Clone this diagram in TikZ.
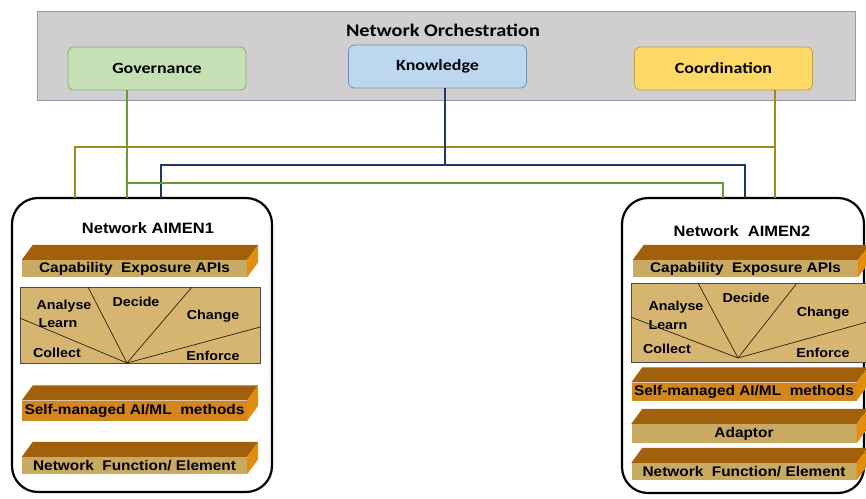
\documentclass[tikz,border=0pt]{standalone}
\usepackage{fontspec}
\setmainfont[FakeStretch=1.1]{Liberation Sans}
\newfontfamily\calibrifont[FakeStretch=1.15]{Carlito}
\usetikzlibrary{calc}
\definecolor{orchgrey}{HTML}{D0CECE}
\definecolor{orchedge}{HTML}{8E9CB0}
\definecolor{govfill}{HTML}{C5E0B4}
\definecolor{govedge}{HTML}{8FA882}
\definecolor{knofill}{HTML}{BDD7EE}
\definecolor{knoedge}{HTML}{6F8FB0}
\definecolor{coofill}{HTML}{FFD966}
\definecolor{cooedge}{HTML}{C0A040}
\definecolor{lgreen}{HTML}{6A9A3A}
\definecolor{lblue}{HTML}{203864}
\definecolor{lolive}{HTML}{A08A1C}
\definecolor{tanface}{HTML}{C9AA62}
\definecolor{cycface}{HTML}{D6B570}
\definecolor{topface}{HTML}{A0600C}
\definecolor{sideface}{HTML}{E48C0C}
\definecolor{orangeface}{HTML}{D4861E}
\newcommand\slabfaces[1]{%
  \fill[topface] (#1.north west) -- ($(#1.north west)+(11,-15)$) -- ($(#1.north east)+(11,-15)$) -- (#1.north east) -- cycle;
  \fill[sideface] (#1.north east) -- ($(#1.north east)+(11,-15)$) -- ($(#1.south east)+(11,-15)$) -- (#1.south east) -- cycle;}
\begin{document}
\begin{tikzpicture}[x=1pt,y=-1pt,
  toplabel/.style={rounded corners=6pt, draw=#1, line width=0.8pt, minimum width=178, minimum height=43, inner sep=0pt, font=\calibrifont\bfseries\fontsize{15.6}{17}\selectfont},
  aimen/.style={draw=black, line width=2.2pt, rounded corners=26pt, fill=white},
  slab/.style={inner sep=0pt, minimum width=225, font=\bfseries\fontsize{14}{15}\selectfont},
  cyc/.style={fill=cycface, draw=black!70, line width=0.5pt, inner sep=0pt},
  cyctext/.style={inner sep=0pt, font=\bfseries\fontsize{13}{14}\selectfont},
  cycline/.style={draw=black!75!brown, line width=0.7pt},
  conn/.style={line width=2.4pt}]
\useasboundingbox (0,0) rectangle (866,498);
\clip (0,0) rectangle (866,498);
% orchestration
\node[fill=orchgrey, draw=orchedge, line width=0.8pt, minimum width=818, minimum height=89, inner sep=0pt] (orch) at (446,55.5) {};
\node[font=\calibrifont\bfseries\fontsize{17.7}{19}\selectfont, inner sep=0pt] (orchtxt) at (443,30) {Network Orchestration};
\node[toplabel=govedge, fill=govfill] (gov) at (157,68.5) {Governance};
\node[toplabel=knoedge, fill=knofill] (kno) at (437.5,66.5) {Knowledge};
\node[toplabel=cooedge, fill=coofill] (coo) at (723.5,68.5) {Coordination};
% AIMEN boxes
\node[aimen, minimum width=260, minimum height=294, inner sep=0pt] (box1) at (142,345) {};
\node[aimen, minimum width=242, minimum height=295, inner sep=0pt] (box2) at (743,345.5) {};
% attachment points
\coordinate (o1) at (75,198);  \coordinate (g1) at (127,198); \coordinate (b1) at (161,198);
\coordinate (g2) at (723,198); \coordinate (b2) at (745,198); \coordinate (o2) at (775,198);
% connectors
\draw[conn, lolive] (coo.south -| o2) -- (o2);
\draw[conn, lolive] (o1) -- (o1 |- 0,147) -- (o2 |- 0,147);
\draw[conn, lblue] (kno.south -| 445,0) -- (445,165);
\draw[conn, lblue] (b1) -- (b1 |- 0,165) -- (b2 |- 0,165) -- (b2);
\draw[conn, lgreen] (gov.south -| g1) -- (g1);
\draw[conn, lgreen] (g1 |- 0,183) -- (g2 |- 0,183) -- (g2);
% ---------- AIMEN1
\node[font=\bfseries\fontsize{15}{16}\selectfont, inner sep=0pt] (t1) at (148,228) {Network AIMEN1};
\node[slab, fill=tanface, minimum height=17] (cap1) at (134.5,268.5) {Capability\ \ Exposure APIs};
\slabfaces{cap1}
\node[cyc, minimum width=240, minimum height=76] (cyc1) at (140,325) {};
\coordinate (c1) at (127,363);
\draw[cycline] (c1) -- (cyc1.west |- 0,318);
\draw[cycline] (c1) -- (88,287);
\draw[cycline] (c1) -- (192,287);
\draw[cycline] (c1) -- (cyc1.east |- 0,327);
\node[cyctext] (an1) at (64,306) {Analyse};
\node[cyctext] (le1) at (58,323) {Learn};
\node[cyctext] (de1) at (136,302) {Decide};
\node[cyctext] (ch1) at (213,316) {Change};
\node[cyctext] (co1) at (57,353) {Collect};
\node[cyctext] (en1) at (213,356) {Enforce};
\node[slab, fill=orangeface, minimum height=20] (sm1) at (134.5,410.5) {Self-managed AI/ML\ \ methods};
\slabfaces{sm1}
\node[slab, fill=tanface, minimum height=17] (nf1) at (134.5,465.5) {Network\ \ Function/ Element};
\slabfaces{nf1}
% ---------- AIMEN2
\node[font=\bfseries\fontsize{15}{16}\selectfont, inner sep=0pt] (t2) at (742,231) {Network\ \ AIMEN2};
\node[slab, fill=tanface, minimum height=17] (cap2) at (745.5,268.5) {Capability\ \ Exposure APIs};
\slabfaces{cap2}
\node[cyc, minimum width=236, minimum height=79] (cyc2) at (749,322.5) {};
\coordinate (c2) at (738,358);
\draw[cycline] (c2) -- (cyc2.west |- 0,317);
\draw[cycline] (c2) -- (698,283);
\draw[cycline] (c2) -- (797,283);
\draw[cycline] (c2) -- (cyc2.east |- 0,322);
\node[cyctext] (an2) at (676,307) {Analyse};
\node[cyctext] (le2) at (668,325) {Learn};
\node[cyctext] (de2) at (746,298) {Decide};
\node[cyctext] (ch2) at (823,313) {Change};
\node[cyctext] (co2) at (667,349) {Collect};
\node[cyctext] (en2) at (823,353) {Enforce};
\node[slab, fill=orangeface, minimum height=18] (sm2) at (744,391.5) {Self-managed AI/ML\ \ methods};
\slabfaces{sm2}
\node[slab, fill=tanface, minimum height=19] (ad2) at (744,433.5) {Adaptor};
\slabfaces{ad2}
\node[slab, fill=tanface, minimum height=17] (nf2) at (744,471.5) {Network\ \ Function/ Element};
\slabfaces{nf2}
\end{tikzpicture}
\end{document}
